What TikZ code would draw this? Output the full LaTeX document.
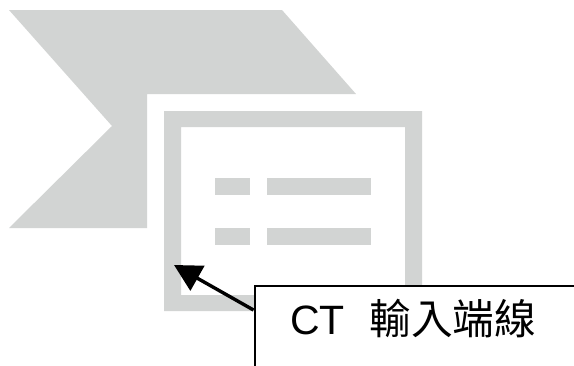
\documentclass[tikz,border=0pt]{standalone}
\usepackage{fontspec}
\setmainfont{Liberation Sans}
\newfontfamily\cjkfont{Noto Sans CJK TC}
\usetikzlibrary{arrows.meta}
\definecolor{shapegrey}{HTML}{D2D4D3}
\tikzset{
  x=1pt,y=-1pt,
  greyfill/.style={fill=shapegrey,draw=none},
  calloutbox/.style={draw=black,line width=2pt,fill=white,rectangle,minimum width=346pt,minimum height=115pt,anchor=north west,inner sep=0pt},
  calloutlabel/.style={anchor=base west,inner sep=0pt,font=\fontsize{41pt}{41pt}\selectfont,text=black},
  pointer/.style={draw=black,line width=3.4pt,-{Triangle[length=27pt,width=28pt]}}
}
\begin{document}
\begin{tikzpicture}
\useasboundingbox (0,0) rectangle (574,365);
\clip (0,0) rectangle (574,365);
\fill[white] (0,0) rectangle (574,365);
% chevron
\path[greyfill] (9,10) -- (282,10) -- (356,94) -- (147,94) -- (147,228) -- (9,228) -- (112,126) -- cycle;
% frame
\path[greyfill,even odd rule] (164,111) rectangle (422,311) (181,127) rectangle (405,295);
% bars
\path[greyfill] (215,178) rectangle (250,195);
\path[greyfill] (267,178) rectangle (371,195);
\path[greyfill] (215,228) rectangle (250,245);
\path[greyfill] (267,228) rectangle (371,245);
% callout
\node[calloutbox] (callout) at (253.5,285) {};
\node[calloutlabel] (label) at (290,334) {CT\hspace{24.5pt}{\cjkfont\fontsize{41.7pt}{41.7pt}\selectfont 輸入端線}};
\coordinate (tip) at (174,265);
\coordinate (tail) at (253.5,310);
\draw[pointer] (tail) -- (tip);
\end{tikzpicture}
\end{document}
